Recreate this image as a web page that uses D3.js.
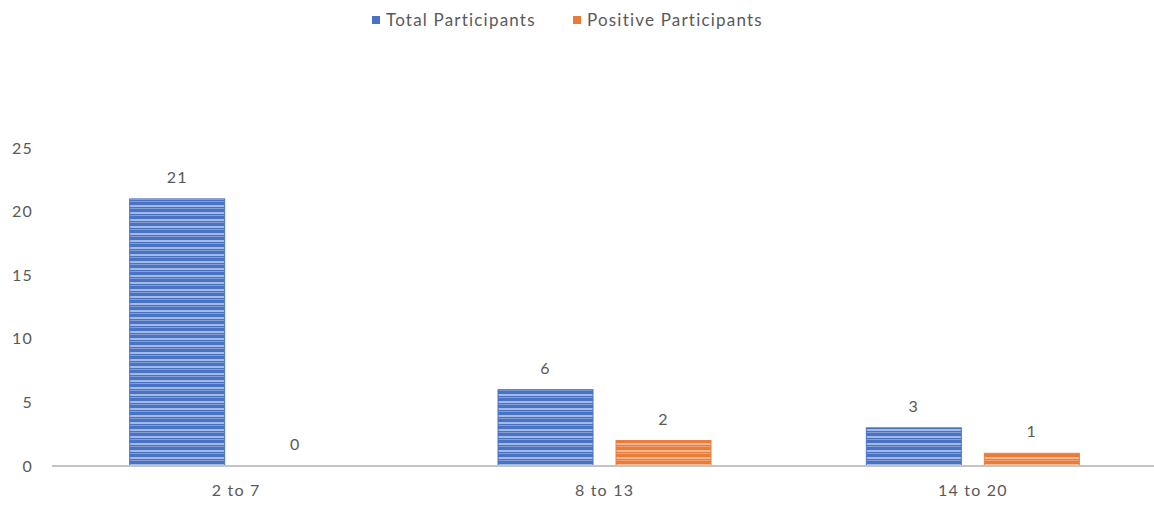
<!DOCTYPE html>
<html>
<head>
<meta charset="utf-8">
<script src="https://cdn.jsdelivr.net/npm/d3@7"></script>
<style>
  html, body { margin: 0; padding: 0; background: #fff; }
  svg { display: block; font-family: "Lato", "Liberation Sans", sans-serif; }
</style>
</head>
<body>
<svg id="chart" width="1154" height="505"></svg>
<script>
// Age groups and participant counts
const categories = ["2 to 7", "8 to 13", "14 to 20"];
const seriesNames = ["Total Participants", "Positive Participants"];
const totalParticipants = [21, 6, 3];
const positiveParticipants = [0, 2, 1];
const yTicks = [0, 5, 10, 15, 20, 25];

const seriesValues = [totalParticipants, positiveParticipants];
const seriesColors = ["#4a72c2", "#ea7c3a"];
const stripeColors = ["#a3b9e6", "#f8b994"];

const svg = d3.select("#chart");
const width = 1154, height = 505;
const margin = { left: 52, right: -3, top: 148, bottom: 39 };

const x0 = d3.scaleBand()
  .domain(categories)
  .range([margin.left, width - margin.right])
  .paddingInner(0).paddingOuter(0);

const groupWidth = 213;
const x1 = d3.scaleBand()
  .domain(seriesNames)
  .range([0, groupWidth])
  .paddingInner(0.195).paddingOuter(0);

const y = d3.scaleLinear()
  .domain([0, 25])
  .range([height - margin.bottom, margin.top]);

// Horizontal stripe fills
const defs = svg.append("defs");
seriesNames.forEach((name, i) => {
  const p = defs.append("pattern")
    .attr("id", "stripe" + i)
    .attr("patternUnits", "userSpaceOnUse")
    .attr("width", 8).attr("height", 7);
  p.append("rect").attr("width", 8).attr("height", 7).attr("fill", seriesColors[i]);
  p.append("rect").attr("y", 2).attr("width", 8).attr("height", 2).attr("fill", stripeColors[i]);
  p.append("rect").attr("y", 5).attr("width", 8).attr("height", 1).attr("fill", stripeColors[i]).attr("opacity", 0.6);
});

const textStyle = sel => sel
  .attr("fill", "#595959")
  .attr("font-size", 16)
  .attr("letter-spacing", 1.2)
  .attr("font-family", "Lato, 'Liberation Sans', sans-serif");

// Y axis labels (no axis line)
const yAxis = d3.axisLeft(y).tickValues(yTicks).tickSize(0).tickPadding(0);
const gy = svg.append("g")
  .attr("transform", `translate(${margin.left - 19},0)`)
  .call(yAxis);
gy.select(".domain").remove();
gy.selectAll("text").call(textStyle);

// Bars
const offset = (x0.bandwidth() - groupWidth) / 2;
const groups = svg.append("g").selectAll("g")
  .data(categories)
  .join("g")
  .attr("transform", d => `translate(${x0(d) + offset},0)`);

groups.selectAll("rect")
  .data((d, ci) => seriesNames.map((s, si) => ({ s, si, v: seriesValues[si][ci] })))
  .join("rect")
  .attr("x", d => x1(d.s))
  .attr("y", d => y(d.v))
  .attr("width", x1.bandwidth())
  .attr("height", d => y(0) - y(d.v))
  .attr("fill", d => `url(#stripe${d.si})`)
  .attr("stroke", d => d.v > 0 ? seriesColors[d.si] : "none")
  .attr("stroke-width", 1);

// Value labels
groups.selectAll("text.val")
  .data((d, ci) => seriesNames.map((s, si) => ({ s, si, v: seriesValues[si][ci] })))
  .join("text")
  .attr("class", "val")
  .attr("x", d => x1(d.s) + x1.bandwidth() / 2)
  .attr("y", d => y(d.v) - 16)
  .attr("text-anchor", "middle")
  .call(textStyle)
  .text(d => d.v);

// X axis
const xAxis = d3.axisBottom(x0).tickSize(0).tickPadding(19);
const gx = svg.append("g")
  .attr("transform", `translate(0,${y(0)})`)
  .call(xAxis);
gx.select(".domain").attr("stroke", "#c4c4c4").attr("stroke-width", 2)
  .attr("d", `M${margin.left},0H${width}`);
gx.selectAll("text").call(textStyle);

// Legend
const legend = svg.append("g").attr("transform", "translate(372,20)");
const legendX = [0, 201];
seriesNames.forEach((name, i) => {
  const g = legend.append("g").attr("transform", `translate(${legendX[i]},0)`);
  g.append("rect").attr("x", 0).attr("y", -4).attr("width", 8).attr("height", 8)
    .attr("fill", seriesColors[i]);
  g.append("text").attr("x", 14).attr("y", 0).attr("dy", "0.35em")
    .call(textStyle).attr("font-size", 17)
    .text(name);
});
</script>
</body>
</html>
